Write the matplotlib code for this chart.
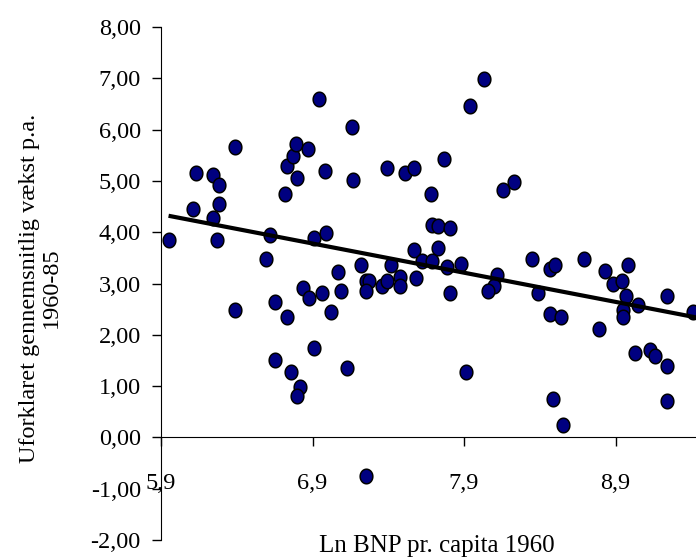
import numpy as np
import matplotlib
matplotlib.use("Agg")
import matplotlib.pyplot as plt
from matplotlib.path import Path

plt.rcParams['font.family'] = ['Liberation Serif', 'DejaVu Serif']

# Ln BNP pr. capita 1960 (x) and unexplained growth (y)
ln_bnp = [5.95, 6.11, 6.13, 6.24, 6.28, 6.28, 6.24, 6.27, 6.39, 6.72,
          6.73, 6.77, 6.79, 6.80, 6.87, 6.94, 6.98, 7.16, 7.17, 7.39,
          7.51, 7.57, 7.68, 7.69, 7.73, 6.62, 6.59, 6.91, 6.99, 7.07,
          7.22, 7.42, 7.57, 7.62, 8.03, 7.94, 7.77, 8.16, 8.23, 7.81,
          7.73, 7.69, 7.79, 7.88, 8.12, 8.35, 8.47, 8.50, 8.69, 8.83,
          8.98, 8.88, 8.94, 6.84, 6.88, 6.96, 7.09, 7.02, 6.65, 6.73,
          6.39, 6.91, 7.13, 6.65, 6.76, 6.82, 6.80, 7.25, 7.27, 7.25,
          7.36, 7.39, 7.48, 7.48, 7.58, 7.25, 7.81, 8.10, 8.06, 8.39,
          8.47, 8.54, 8.79, 8.97, 8.95, 8.95, 9.05, 9.24, 9.41, 9.03,
          9.13, 9.16, 9.24, 9.24, 7.91, 8.49, 8.55]
vaekst = [3.85, 4.45, 5.16, 5.12, 4.92, 4.55, 4.27, 3.85, 5.67, 4.74,
          5.30, 5.49, 5.72, 5.06, 5.62, 6.60, 5.20, 6.05, 5.02, 5.25,
          5.16, 5.25, 4.74, 4.14, 4.12, 3.94, 3.47, 3.89, 3.99, 3.22,
          3.37, 3.37, 3.65, 3.43, 6.99, 6.46, 5.43, 4.83, 4.97, 4.08,
          3.70, 3.43, 3.33, 3.38, 3.16, 3.47, 3.28, 3.37, 3.47, 3.24,
          3.37, 3.00, 3.05, 2.91, 2.71, 2.82, 2.86, 2.44, 2.63, 2.34,
          2.49, 1.74, 1.36, 1.51, 1.27, 0.99, 0.80, 3.04, 3.05, 2.86,
          2.95, 3.05, 3.12, 2.95, 3.10, -0.75, 2.82, 2.95, 2.86, 2.82,
          2.40, 2.34, 2.11, 2.76, 2.49, 2.34, 2.58, 2.76, 2.44, 1.65,
          1.71, 1.59, 1.40, 0.71, 1.27, 0.75, 0.24]

# linear trend line
trend_intercept = 7.706
trend_slope = -0.569

x_ticks = [5.9, 6.9, 7.9, 8.9]
x_labels = ["5,9", "6,9", "7,9", "8,9"]
y_ticks = [-2, -1, 0, 1, 2, 3, 4, 5, 6, 7, 8]
y_labels = ["-2,00", "-1,00", "0,00", "1,00", "2,00", "3,00",
            "4,00", "5,00", "6,00", "7,00", "8,00"]

fig = plt.figure(figsize=(6.96, 5.57), dpi=100)
ax = fig.add_axes([0.2313, 0.0305, 0.7687, 0.921])

# slightly tall ellipse marker like the original
t = np.linspace(0, 2 * np.pi, 60)
ell = Path(np.column_stack([0.87 * np.cos(t), np.sin(t)]), closed=True)

ax.scatter(ln_bnp, vaekst, s=110, marker=ell, color='#000080',
           edgecolors='black', linewidths=1.1, zorder=3, clip_on=False)

xs = np.array([min(ln_bnp), 9.45])
ax.plot(xs, trend_intercept + trend_slope * xs, color='black', lw=3,
        solid_capstyle='butt', zorder=4)

ax.set_xlim(5.9, 9.431)
ax.set_ylim(-2, 8)

ax.spines['top'].set_visible(False)
ax.spines['right'].set_visible(False)
ax.spines['bottom'].set_position(('data', 0))

ax.set_xticks(x_ticks)
ax.set_xticklabels(x_labels)
ax.set_yticks(y_ticks)
ax.set_yticklabels(y_labels)
ax.tick_params(axis='x', direction='out', length=6.5, width=1, labelsize=17.5, pad=19)
ax.tick_params(axis='y', direction='out', length=6.5, width=1, labelsize=17.5, pad=8)

fig.text(40 / 696, 1 - 288 / 557, "Uforklaret gennemsnitlig vækst p.a.\n1960-85",
         fontsize=17.5, rotation=90, ha='center', va='center',
         multialignment='center', linespacing=1.05)

fig.text(436.5 / 696, 1 - 552 / 557, "Ln BNP pr. capita 1960", fontsize=18,
         ha='center', va='baseline')

fig.savefig("out.png", dpi=100)
